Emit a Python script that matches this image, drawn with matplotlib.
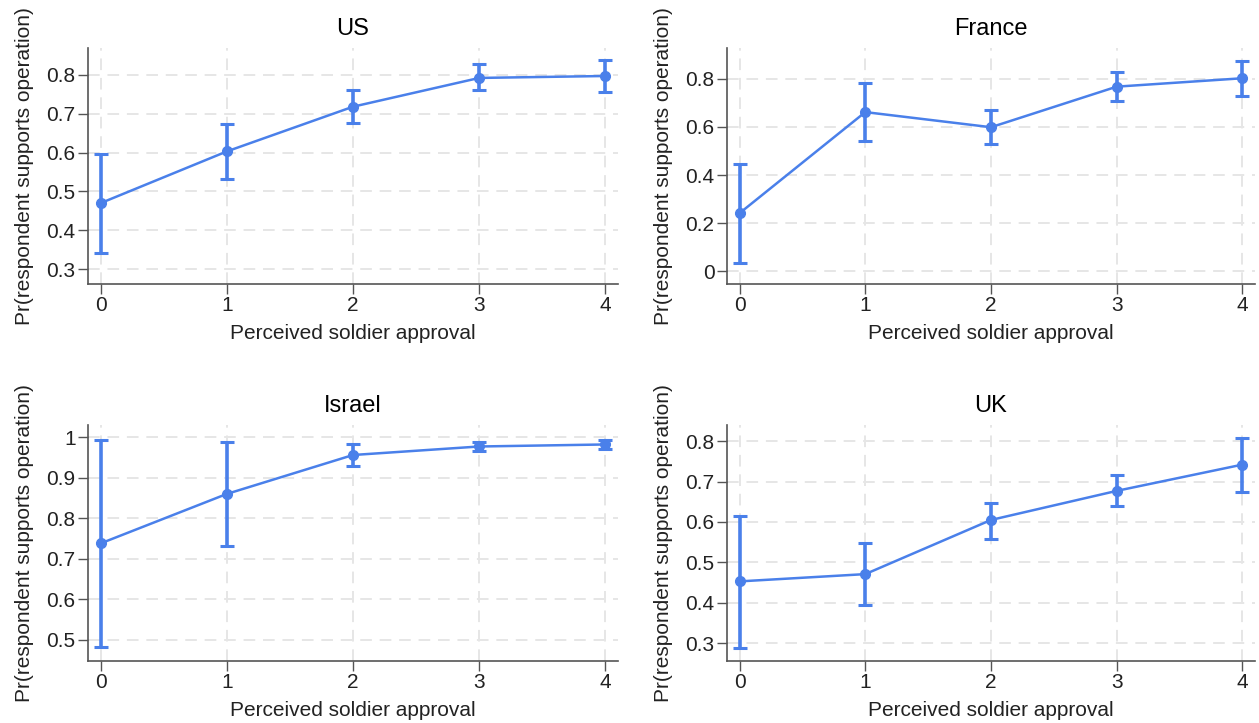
import matplotlib
matplotlib.use("Agg")
import matplotlib.pyplot as plt

plt.rcParams['font.family'] = ['Liberation Sans', 'DejaVu Sans']

approval = [0, 1, 2, 3, 4]

us_est = [0.470, 0.603, 0.718, 0.792, 0.797]
us_lo = [0.342, 0.533, 0.675, 0.760, 0.757]
us_hi = [0.596, 0.673, 0.761, 0.827, 0.837]

fr_est = [0.241, 0.662, 0.599, 0.768, 0.803]
fr_lo = [0.035, 0.540, 0.529, 0.707, 0.731]
fr_hi = [0.447, 0.783, 0.671, 0.830, 0.876]

il_est = [0.738, 0.860, 0.956, 0.977, 0.982]
il_lo = [0.482, 0.731, 0.928, 0.965, 0.971]
il_hi = [0.993, 0.988, 0.984, 0.989, 0.992]

uk_est = [0.453, 0.471, 0.605, 0.677, 0.742]
uk_lo = [0.289, 0.395, 0.559, 0.639, 0.673]
uk_hi = [0.615, 0.547, 0.648, 0.717, 0.809]

panels = [
    ("US", us_est, us_lo, us_hi, [0.3, 0.4, 0.5, 0.6, 0.7, 0.8], (0.262, 0.869)),
    ("France", fr_est, fr_lo, fr_hi, [0, 0.2, 0.4, 0.6, 0.8], (-0.054, 0.929)),
    ("Israel", il_est, il_lo, il_hi, [0.5, 0.6, 0.7, 0.8, 0.9, 1.0], (0.448, 1.030)),
    ("UK", uk_est, uk_lo, uk_hi, [0.3, 0.4, 0.5, 0.6, 0.7, 0.8], (0.256, 0.840)),
]

# axes rectangles in figure pixels: left, top, right, bottom
W, H = 1259, 723
boxes = [(88, 48, 618, 284), (727, 48, 1255, 284),
         (88, 425, 618, 661), (727, 425, 1255, 661)]

blue = "#4a80ea"

fig = plt.figure(figsize=(W / 100, H / 100), dpi=100)
fig.patch.set_facecolor("white")

for (name, est, lo, hi, yticks, ylim), (l, t, r, b) in zip(panels, boxes):
    ax = fig.add_axes([l / W, 1 - b / H, (r - l) / W, (b - t) / H])
    err = [[e - a for e, a in zip(est, lo)], [c - e for e, c in zip(est, hi)]]
    ax.errorbar(approval, est, yerr=err, color=blue, lw=1.8, elinewidth=2.6,
                capsize=5, capthick=2.2, marker="o", ms=7, zorder=3)
    ax.set_xlim(-0.1, 4.1)
    ax.set_ylim(*ylim)
    ax.set_xticks(approval)
    ax.set_yticks(yticks)
    ax.set_yticklabels([("%g" % v) for v in yticks])
    ax.grid(True, color="#e6e6e6", ls=(0, (6, 4)), lw=1.4, zorder=0)
    for s in ("top", "right"):
        ax.spines[s].set_visible(False)
    for s in ("left", "bottom"):
        ax.spines[s].set_color("#555555")
        ax.spines[s].set_linewidth(1.2)
    ax.tick_params(colors="#555555", labelcolor="#222222", labelsize=15,
                   length=7, width=1.0, pad=2)
    ax.set_title(name, fontsize=17, pad=9.5)
    ax.set_xlabel("Perceived soldier approval", fontsize=15, color="#222222",
                  labelpad=6)
    ax.set_ylabel("Pr(respondent supports operation)", fontsize=15,
                  color="#222222", labelpad=9)

fig.savefig("out.png", dpi=100, facecolor="white")
